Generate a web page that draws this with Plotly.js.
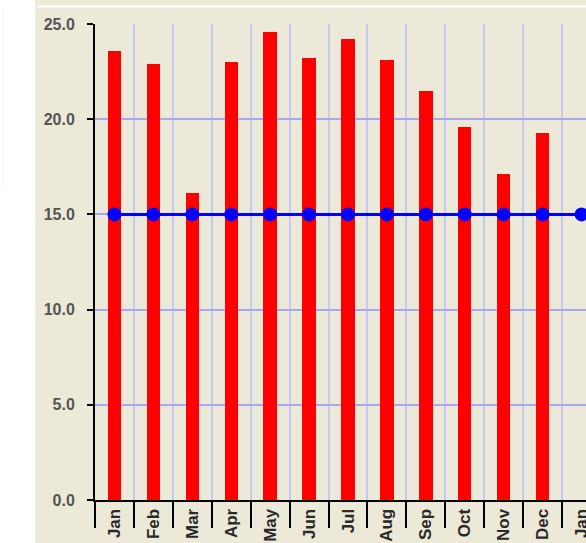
<!DOCTYPE html>
<html>
<head>
<meta charset="utf-8">
<script src="https://cdn.plot.ly/plotly-3.0.1.min.js"></script>
<style>
html, body { margin: 0; padding: 0; overflow: hidden; background: #ECE9D8; width: 586px; height: 543px; }
#chart { width: 601px; height: 543px; }
</style>
</head>
<body>
<div id="chart"></div>
<script>
// Data
const monthLabels = ["Jan","Feb","Mar","Apr","May","Jun","Jul","Aug","Sep","Oct","Nov","Dec","Jan"];
const barValues = [23.6, 22.9, 16.1, 23.0, 24.6, 23.2, 24.2, 23.1, 21.5, 19.6, 17.1, 19.3];
const lineValues = [15, 15, 15, 15, 15, 15, 15, 15, 15, 15, 15, 15, 15];
const yTicks = [0, 5, 10, 15, 20, 25];

const xBars = barValues.map((_, i) => i);
const xLine = lineValues.map((_, i) => i);
const xTickVals = monthLabels.map((_, i) => i);

const W = 601, H = 543, ML = 95, MT = 24, MB = 43;
const PW = W - ML, PH = H - MT - MB;
const px = x => (x - ML) / PW;
const py = y => (H - MB - y) / PH;

const traces = [
  {
    type: 'bar',
    x: xBars,
    y: barValues,
    width: 0.345,
    marker: { color: '#ff0000', line: { width: 0 } },
    hoverinfo: 'y'
  },
  {
    type: 'scatter',
    mode: 'lines+markers',
    x: xLine,
    y: lineValues,
    line: { color: '#0000ff', width: 3 },
    marker: { color: '#0000ff', size: 14 },
    cliponaxis: false
  }
];

const layout = {
  width: W,
  height: H,
  margin: { l: ML, r: 0, t: MT, b: MB, pad: 0 },
  paper_bgcolor: '#ECE9D8',
  plot_bgcolor: '#ECE9D8',
  showlegend: false,
  bargap: 0,
  xaxis: {
    type: 'linear',
    range: [-0.5, 12.5],
    tickmode: 'array',
    tickvals: xTickVals,
    ticktext: monthLabels,
    tickangle: -90,
    ticks: '',
    showgrid: false,
    zeroline: false,
    showline: true,
    linecolor: '#000000',
    linewidth: 2,
    tickfont: { family: 'Liberation Sans, Arial, sans-serif', size: 17, color: '#2a2a2a', weight: 'bold' },
    minor: {
      tick0: -0.5,
      dtick: 1,
      ticks: 'outside',
      ticklen: 26,
      tickwidth: 2,
      tickcolor: '#000000',
      showgrid: true,
      gridcolor: '#c8c8f6',
      gridwidth: 2
    },
    fixedrange: true
  },
  yaxis: {
    range: [0, 25],
    tickmode: 'array',
    tickvals: yTicks,
    tickformat: '.1f',
    ticks: 'outside',
    ticklen: 6,
    tickwidth: 2,
    tickcolor: '#000000',
    ticklabelstandoff: 9,
    showgrid: true,
    gridcolor: '#a8a8f0',
    gridwidth: 2,
    zeroline: false,
    showline: true,
    linecolor: '#000000',
    linewidth: 2,
    tickfont: { family: 'Liberation Sans, Arial, sans-serif', size: 16, color: '#555555', weight: 'bold' },
    fixedrange: true
  },
  shapes: [
    { type: 'rect', xref: 'paper', yref: 'paper', x0: px(0), x1: px(36), y0: py(H), y1: py(0),
      fillcolor: '#ffffff', line: { width: 0 }, layer: 'above' },
    { type: 'line', xref: 'paper', yref: 'paper', x0: px(36), x1: px(36), y0: py(H), y1: py(0),
      line: { color: '#e4e2da', width: 1 }, layer: 'above' },
    { type: 'line', xref: 'paper', yref: 'paper', x0: px(3), x1: px(3), y0: py(187), y1: py(8),
      line: { color: '#eeeeee', width: 1 }, layer: 'above' },
    { type: 'line', xref: 'paper', yref: 'paper', x0: px(37), x1: px(W), y0: py(6.5), y1: py(6.5),
      line: { color: '#ffffff', width: 2 }, layer: 'above' }
  ]
};

Plotly.newPlot('chart', traces, layout, { displayModeBar: false, staticPlot: true });
</script>
</body>
</html>
